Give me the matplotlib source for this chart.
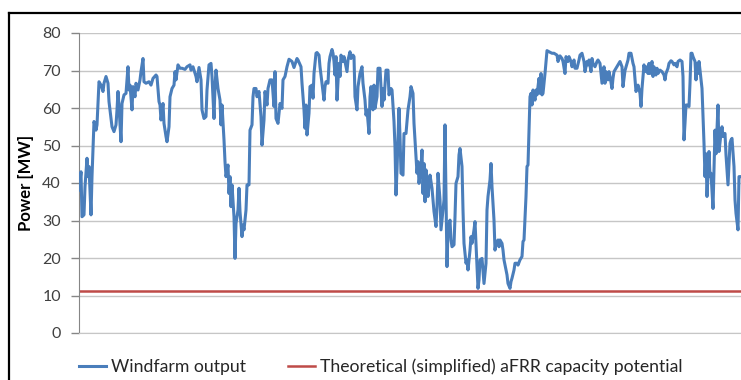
import matplotlib
matplotlib.use("Agg")
import matplotlib.pyplot as plt
from matplotlib.lines import Line2D

# 15-minute sample index and windfarm output [MW]
sample = [
    0, 2, 3, 5, 6, 8, 9, 10, 12, 13, 14, 15, 17, 18, 20, 22, 24, 25, 27, 29,
    30, 33, 35, 37, 38, 39, 40, 42, 43, 45, 47, 49, 50, 51, 53, 54, 56, 57, 59, 61,
    62, 64, 65, 67, 70, 72, 74, 77, 78, 80, 81, 82, 84, 85, 87, 88, 90, 91, 93, 95,
    96, 97, 99, 101, 103, 106, 108, 111, 112, 114, 117, 118, 120, 122, 123, 125, 127, 128, 130, 132,
    133, 135, 136, 137, 139, 141, 142, 143, 145, 146, 147, 149, 150, 151, 152, 153, 155, 156, 157, 159,
    160, 161, 163, 164, 165, 167, 168, 170, 171, 173, 174, 175, 177, 178, 180, 182, 183, 185, 186, 188,
    189, 191, 193, 195, 196, 197, 199, 201, 203, 204, 206, 208, 210, 213, 215, 218, 219, 222, 223, 225,
    226, 227, 228, 230, 231, 233, 234, 235, 237, 238, 240, 241, 243, 245, 246, 247, 249, 250, 251, 253,
    254, 255, 256, 257, 258, 260, 261, 262, 264, 265, 266, 268, 269, 271, 272, 274, 275, 276, 278, 279,
    281, 283, 284, 286, 287, 288, 290, 291, 292, 294, 295, 296, 298, 299, 301, 303, 304, 305, 307, 309,
    310, 312, 313, 315, 316, 317, 318, 320, 321, 322, 324, 325, 327, 329, 331, 332, 334, 335, 337, 338,
    339, 340, 342, 343, 344, 345, 346, 347, 349, 350, 351, 353, 354, 355, 357, 358, 359, 361, 362, 363,
    365, 366, 367, 368, 369, 371, 372, 373, 375, 376, 377, 379, 380, 381, 383, 384, 385, 387, 388, 389,
    391, 392, 393, 395, 396, 397, 399, 400, 401, 403, 404, 405, 407, 408, 409, 411, 412, 413, 415, 416,
    417, 419, 420, 421, 423, 424, 425, 427, 428, 429, 431, 432, 433, 435, 436, 438, 439, 441, 443, 444,
    445, 447, 448, 449, 450, 451, 452, 453, 454, 456, 457, 458, 460, 461, 462, 463, 464, 466, 467, 468,
    470, 473, 475, 478, 479, 481, 483, 484, 486, 487, 489, 490, 492, 493, 495, 496, 498, 500, 501, 503,
    505, 506, 508, 509, 510, 512, 513, 514, 516, 518, 519, 521, 522, 523, 525, 526, 527, 529, 530, 531,
    533, 534, 535, 537, 538, 540, 541, 543, 544, 546, 548, 549, 550, 552, 554, 555, 557, 558, 559, 561,
    562, 563, 565, 566, 567, 569, 570, 571, 573, 574, 575, 577, 578, 579, 581, 583, 585, 586, 587, 589,
    590, 592, 593, 595, 596, 598, 599, 601, 603, 604, 605, 606, 607, 608, 610, 611, 612, 613, 614, 616,
    617, 618, 619, 620, 621, 623, 624, 625, 626, 627, 628, 630, 631, 632, 634, 635, 636, 637, 638, 639,
    640, 642, 643, 644, 646, 647, 648, 649, 651, 652, 653, 655, 656, 657, 659, 660, 661,
]
windfarm_mw = [
    38.1, 43.0, 31.0, 31.5, 39.0, 46.6, 41.7, 44.4, 31.5, 41.7, 49.2, 56.4, 54.1, 55.5, 67.0, 66.1, 64.4, 66.6, 68.4, 66.6,
    61.7, 55.0, 53.7, 55.5, 59.5, 64.4, 60.4, 51.0, 61.2, 63.5, 63.9, 71.0, 64.8, 66.1, 59.5, 65.7, 63.0, 66.6, 64.8, 67.5,
    69.7, 73.2, 67.0, 66.6, 67.0, 66.1, 67.9, 68.8, 68.4, 61.7, 60.8, 56.8, 61.2, 55.9, 52.4, 51.0, 55.0, 63.0, 65.2, 66.1,
    69.7, 67.5, 71.5, 70.6, 70.6, 70.3, 71.0, 71.5, 70.1, 71.0, 68.4, 67.0, 70.8, 67.5, 59.5, 57.2, 57.7, 64.8, 71.5, 71.9,
    68.4, 57.2, 65.7, 70.1, 65.2, 62.1, 55.5, 60.8, 51.5, 45.7, 41.7, 44.8, 37.2, 41.7, 33.7, 39.5, 31.0, 19.9, 29.2, 32.8,
    38.6, 32.4, 25.7, 28.8, 27.5, 32.8, 39.5, 39.5, 54.1, 55.5, 63.0, 65.2, 65.2, 63.0, 64.4, 57.7, 50.1, 56.8, 64.4, 60.8,
    65.2, 67.5, 67.5, 60.4, 69.7, 57.2, 55.9, 61.2, 59.9, 67.5, 68.4, 71.0, 73.0, 72.4, 70.8, 73.2, 72.8, 71.0, 66.6, 59.5,
    54.6, 60.8, 52.8, 58.6, 65.7, 66.1, 62.6, 69.2, 74.6, 74.8, 74.1, 71.0, 66.6, 62.1, 65.7, 67.0, 66.6, 71.9, 73.7, 75.6,
    74.6, 72.4, 68.8, 73.7, 62.1, 71.9, 68.4, 74.1, 72.4, 73.7, 72.4, 69.7, 72.8, 75.0, 73.2, 74.1, 73.7, 63.0, 59.5, 65.7,
    69.2, 71.0, 66.6, 62.1, 58.1, 59.5, 53.2, 63.0, 65.7, 59.5, 66.1, 59.9, 63.0, 70.6, 70.6, 60.4, 65.2, 62.1, 70.1, 70.1,
    63.5, 65.2, 64.8, 56.4, 49.7, 36.8, 43.5, 59.9, 52.4, 42.6, 42.1, 53.2, 53.2, 59.5, 63.0, 65.7, 63.9, 55.9, 47.0, 42.6,
    45.7, 39.9, 44.4, 48.8, 37.2, 45.2, 35.0, 43.5, 36.4, 39.0, 42.1, 38.6, 35.5, 32.4, 28.4, 33.7, 42.6, 35.5, 27.5, 30.1,
    35.5, 55.5, 36.4, 17.7, 27.5, 30.1, 24.8, 23.0, 23.5, 31.0, 39.9, 41.7, 47.5, 49.2, 44.4, 32.8, 23.9, 18.6, 19.5, 16.8,
    22.1, 25.7, 23.9, 27.5, 29.7, 23.9, 11.9, 14.1, 19.5, 19.9, 16.4, 13.2, 18.6, 32.8, 36.4, 40.8, 45.2, 39.0, 30.1, 22.1,
    23.9, 24.8, 23.0, 24.8, 23.9, 22.1, 19.5, 16.8, 15.5, 13.2, 11.9, 13.7, 14.6, 16.8, 18.6, 18.6, 18.1, 19.5, 20.4, 24.4,
    24.8, 36.4, 44.4, 44.8, 54.1, 63.0, 63.9, 60.8, 64.8, 62.1, 64.8, 63.5, 67.9, 63.9, 69.2, 63.5, 63.9, 69.2, 72.4, 75.3,
    75.0, 74.6, 74.6, 74.1, 72.4, 73.9, 73.2, 72.4, 69.2, 73.7, 72.4, 73.7, 72.4, 71.0, 72.8, 70.6, 70.6, 72.8, 74.1, 74.6,
    72.4, 69.7, 72.4, 71.5, 72.8, 69.7, 73.2, 71.9, 71.0, 72.4, 72.8, 71.9, 69.2, 66.6, 71.0, 66.6, 69.7, 67.5, 69.7, 68.4,
    65.2, 67.9, 69.7, 70.6, 71.0, 71.9, 72.4, 71.0, 65.7, 70.0, 71.9, 72.8, 74.6, 74.6, 71.9, 71.0, 64.4, 65.2, 66.1, 63.9,
    60.4, 65.2, 71.5, 69.7, 71.0, 69.2, 71.9, 69.2, 72.4, 68.4, 71.0, 68.8, 70.6, 69.2, 70.1, 69.7, 68.8, 67.5, 69.2, 70.6,
    71.9, 72.6, 72.4, 71.5, 71.9, 71.0, 72.4, 72.8, 72.4, 68.4, 51.5, 55.9, 60.8, 60.8, 60.4, 66.6, 74.6, 74.6, 73.7, 72.4,
    67.5, 71.9, 69.2, 72.4, 70.1, 65.2, 57.7, 50.6, 41.7, 47.8, 36.4, 48.4, 41.7, 42.6, 33.2, 43.5, 54.1, 47.8, 54.6, 60.8,
    48.4, 53.2, 55.0, 52.4, 53.2, 47.5, 43.5, 39.5, 50.6, 51.5, 51.9, 44.4, 35.5, 31.9, 27.5, 41.7, 41.7,
]
afrr_capacity_mw = 11.3

y_ticks = [0, 10, 20, 30, 40, 50, 60, 70, 80]

plt.rcParams['font.family'] = ['Lato', 'DejaVu Sans']

fig = plt.figure(figsize=(7.41, 3.80), dpi=100)
ax = fig.add_axes([79 / 741, 1 - 333 / 380, 662 / 741, 300 / 380])

ax.plot(sample, windfarm_mw, color='#4A7EBB', lw=2.2, label='Windfarm output', zorder=3)
ax.plot([0, 662], [afrr_capacity_mw, afrr_capacity_mw], color='#BE4B48', lw=1.8,
        label='Theoretical (simplified) aFRR capacity potential', zorder=2)

ax.set_xlim(0, 662)
ax.set_ylim(0, 80)
ax.set_yticks(y_ticks)
ax.set_xticks([])
ax.grid(axis='y', color='#C6C6C6', lw=1.0)
ax.set_axisbelow(True)
for s in ['top', 'right']:
    ax.spines[s].set_visible(False)
ax.spines['left'].set_color('#868686')
ax.spines['bottom'].set_color('#C6C6C6')
ax.tick_params(axis='y', length=6, width=1.0, color='#868686', labelsize=11.5,
               labelcolor='#404040', pad=7)
ax.set_ylabel('Power [MW]', fontsize=12, fontweight='bold', labelpad=6)

leg = fig.legend(loc='center left', bbox_to_anchor=(72 / 741, 1 - 367 / 380), ncol=2,
                 frameon=False, fontsize=12.7, handlelength=1.5, handletextpad=0.3,
                 columnspacing=2.4, borderaxespad=0)
for t in leg.get_texts():
    t.set_color('#262626')

# outer chart border (cut off at right and bottom)
bx, by = 8.5 / 741, 1 - 12.5 / 380
fig.add_artist(Line2D([bx, bx], [0, by], color='black', lw=1.6, transform=fig.transFigure))
fig.add_artist(Line2D([bx, 1], [by, by], color='black', lw=1.6, transform=fig.transFigure))

fig.savefig('out.png', dpi=100)
